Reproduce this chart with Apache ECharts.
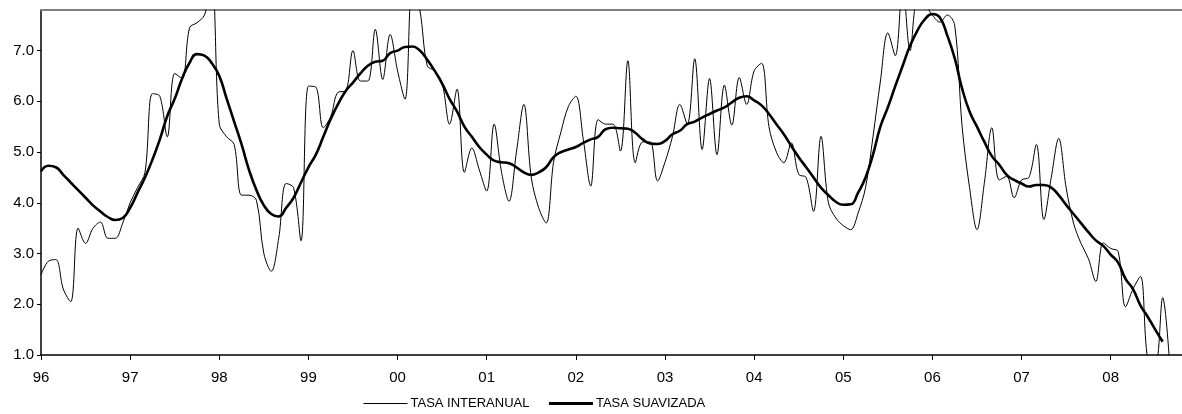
<!DOCTYPE html>
<html>
<head>
<meta charset="utf-8">
<title>Tasa interanual y suavizada</title>
<script src="https://cdn.jsdelivr.net/npm/echarts@6/dist/echarts.min.js"></script>
<style>
  html, body { margin: 0; padding: 0; background: #fff; }
  #chart { width: 1182px; height: 414px; }
</style>
</head>
<body>
<div id="chart"></div>
<script>
// monthly data, Jan 96 onwards
const yearLabels = ['96', '97', '98', '99', '00', '01', '02', '03', '04', '05', '06', '07', '08']

const tasaInteranual = [
  2.58, 2.85, 2.88, 2.3, 2.05, 3.5, 3.2, 3.5, 3.62, 3.3, 3.3, 3.6,
  4.0, 4.3, 4.6, 6.15, 6.1, 5.3, 6.55, 6.45, 7.45, 7.55, 7.7, 8.3,
  5.55, 5.3, 5.15, 4.15, 4.15, 4.05, 3.0, 2.65, 3.3, 4.38, 4.3, 3.25,
  6.3, 6.28, 5.48, 5.7, 6.18, 6.2, 7.0, 6.4, 6.4, 7.42, 6.43, 7.32,
  6.6, 6.04, 8.3, 7.8, 6.7, 6.6, 6.36, 5.55, 6.24, 4.6, 5.08, 4.65,
  4.23, 5.55, 4.6, 4.03, 5.0, 5.94, 4.5, 3.9, 3.6, 4.8, 5.4, 5.9,
  6.1, 5.25, 4.33, 5.64, 5.55, 5.55, 5.02, 6.8, 4.79, 5.2, 5.2, 4.43,
  4.8, 5.3, 5.94, 5.55, 6.84, 5.05, 6.45, 4.95, 6.32, 5.53, 6.47, 5.94,
  6.6, 6.75, 5.5, 5.0, 4.79, 5.18, 4.56, 4.5, 3.83, 5.31, 4.0, 3.7,
  3.55, 3.47, 3.8, 4.3, 5.3, 6.4, 7.35, 6.9, 8.3, 7.0, 8.0, 7.9,
  7.7, 7.56, 7.7, 7.5, 5.5, 4.3, 3.47, 4.4, 5.48, 4.45, 4.52, 4.1,
  4.45, 4.5, 5.15, 3.67, 4.5, 5.27, 4.3, 3.6, 3.2, 2.9, 2.45, 3.21,
  3.1, 3.04, 1.95, 2.3, 2.55, 0.9, 0.8, 2.13, 0.7
]

const tasaSuavizada = [
  4.62, 4.73, 4.7, 4.55, 4.4, 4.25, 4.1, 3.95, 3.83, 3.72, 3.66, 3.7,
  3.9, 4.2, 4.5, 4.85, 5.25, 5.71, 6.05, 6.45, 6.76, 6.93, 6.9, 6.75,
  6.5, 6.05, 5.6, 5.15, 4.65, 4.25, 3.95, 3.78, 3.73, 3.9, 4.1, 4.4,
  4.7, 4.95, 5.3, 5.65, 5.95, 6.2, 6.37, 6.55, 6.7, 6.78, 6.8, 6.95,
  7.0, 7.07, 7.08, 7.0, 6.82, 6.6, 6.35, 6.05, 5.8, 5.5, 5.3, 5.1,
  4.95, 4.83, 4.8, 4.78, 4.7, 4.6, 4.55, 4.6, 4.7, 4.9, 5.0, 5.05,
  5.1, 5.18, 5.25, 5.3, 5.45, 5.48, 5.47, 5.46, 5.38, 5.25, 5.17, 5.16,
  5.22, 5.35, 5.42, 5.55, 5.6, 5.68, 5.75, 5.82, 5.88, 5.98, 6.07, 6.1,
  6.02, 5.92, 5.75, 5.55, 5.35, 5.12, 4.9, 4.7, 4.5, 4.3, 4.15, 4.02,
  3.96, 3.97, 4.2, 4.5, 4.95, 5.5, 5.88, 6.3, 6.7, 7.1, 7.4, 7.62,
  7.72, 7.65, 7.3, 6.85, 6.25, 5.8, 5.5, 5.2, 4.92, 4.75, 4.55, 4.45,
  4.38, 4.32, 4.35, 4.35, 4.3, 4.15, 3.96, 3.78, 3.6, 3.42, 3.26, 3.15,
  2.98, 2.82, 2.5, 2.3, 1.98, 1.75, 1.5, 1.26
]

const toPairs = arr => arr.map((v, i) => [i, v])

const chart = echarts.init(document.getElementById('chart'))
const font = 'Liberation Sans, Arial, sans-serif'

chart.setOption({
  animation: false,
  textStyle: { fontFamily: font },
  grid: {
    left: 41,
    right: 0,
    top: 10,
    bottom: 59
  },
  legend: {
    top: 392,
    left: 358,
    itemWidth: 44,
    itemHeight: 10,
    itemGap: 18,
    itemStyle: { opacity: 0 },
    textStyle: { color: '#000', fontSize: 13, fontFamily: font, padding: [0, 0, 0, -2] },
    data: [
      { name: 'TASA INTERANUAL', lineStyle: { width: 1, color: '#000' } },
      { name: 'TASA SUAVIZADA', lineStyle: { width: 3, color: '#000' } }
    ]
  },
  xAxis: [{
    type: 'value',
    min: 0,
    max: 153.6,
    interval: 12,
    axisLine: { lineStyle: { color: '#000', width: 1.5 } },
    axisTick: { show: true, inside: false, length: 5, lineStyle: { color: '#000' } },
    splitLine: { show: false },
    axisLabel: {
      color: '#000',
      fontSize: 15,
      margin: 15,
      showMaxLabel: false,
      formatter: v => (v % 12 === 0 ? yearLabels[v / 12] : '')
    }
  }, {
    // grey frame line on top of the plot
    type: 'value',
    position: 'top',
    min: 0,
    max: 153.6,
    axisLine: { show: true, lineStyle: { color: '#808080', width: 2 } },
    axisTick: { show: false },
    axisLabel: { show: false },
    splitLine: { show: false }
  }],
  yAxis: {
    type: 'value',
    min: 1,
    max: 7.8,
    interval: 1,
    axisLine: { show: true, lineStyle: { color: '#000', width: 1.5 } },
    axisTick: { show: true, inside: false, length: 4, lineStyle: { color: '#000' } },
    splitLine: { show: false },
    axisLabel: {
      color: '#000',
      fontSize: 15,
      margin: 7,
      showMaxLabel: false,
      formatter: v => (Number.isInteger(v) ? v.toFixed(1) : '')
    }
  },
  series: [{
    name: 'TASA INTERANUAL',
    type: 'line',
    data: toPairs(tasaInteranual),
    symbol: 'none',
    smooth: 0.35,
    clip: true,
    lineStyle: { color: '#000', width: 1 },
    itemStyle: { color: '#000' }
  }, {
    name: 'TASA SUAVIZADA',
    type: 'line',
    data: toPairs(tasaSuavizada),
    symbol: 'none',
    smooth: 0.5,
    clip: true,
    lineStyle: { color: '#000', width: 2.6 },
    itemStyle: { color: '#000' }
  }]
})
</script>
</body>
</html>
